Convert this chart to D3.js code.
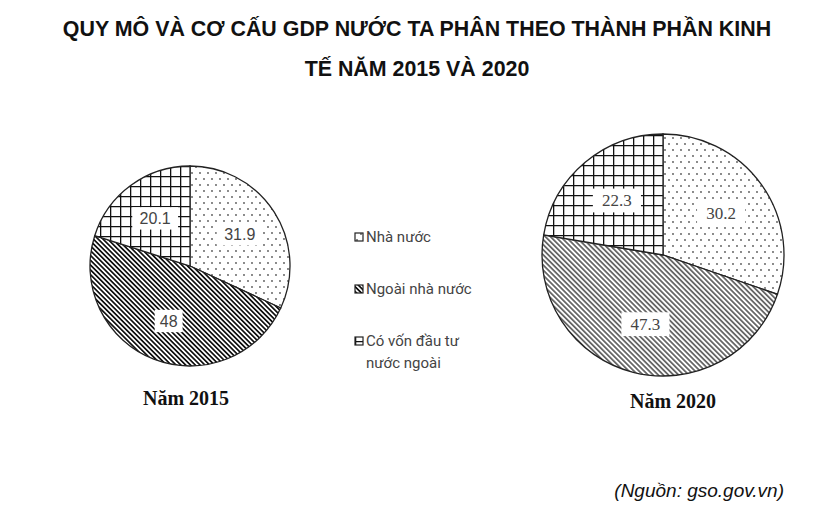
<!DOCTYPE html>
<html>
<head>
<meta charset="utf-8" />
<title>Quy mô và cơ cấu GDP</title>
<script src="https://d3js.org/d3.v7.min.js"></script>
<style>
  body { margin: 0; background: #fff; }
  svg { display: block; }
</style>
</head>
<body>
<div id="chart"></div>
<script>
  // dữ liệu
  const categories = ['Nhà nước', 'Ngoài nhà nước', 'Có vốn đầu tư nước ngoài'];
  const years = ['Năm 2015', 'Năm 2020'];
  const values2015 = [31.9, 48, 20.1];
  const values2020 = [30.2, 47.3, 22.3];
  const titleLines = [
    'QUY MÔ VÀ CƠ CẤU GDP NƯỚC TA PHÂN THEO THÀNH PHẦN KINH',
    'TẾ NĂM 2015 VÀ 2020'
  ];
  const legendLines = [['Nhà nước'], ['Ngoài nhà nước'], ['Có vốn đầu tư', 'nước ngoài']];
  const sourceText = '(Nguồn: gso.gov.vn)';

  const width = 820, height = 510;
  const svg = d3.select('#chart').append('svg')
    .attr('width', width).attr('height', height);

  // mẫu tô
  const defs = svg.append('defs');

  const dots = defs.append('pattern').attr('id', 'dots')
    .attr('patternUnits', 'userSpaceOnUse').attr('width', 8).attr('height', 12);
  dots.append('circle').attr('cx', 2).attr('cy', 3).attr('r', 0.9).attr('fill', '#555');
  dots.append('circle').attr('cx', 6).attr('cy', 9).attr('r', 0.9).attr('fill', '#555');

  function hatch(id, color, size, w) {
    const p = defs.append('pattern').attr('id', id)
      .attr('patternUnits', 'userSpaceOnUse').attr('width', size).attr('height', size)
      .attr('patternTransform', 'rotate(-45)');
    p.append('rect').attr('width', size).attr('height', size).attr('fill', '#fff');
    p.append('line').attr('x1', size / 2).attr('x2', size / 2).attr('y1', 0).attr('y2', size)
      .attr('stroke', color).attr('stroke-width', w);
  }
  hatch('hatchDark', '#111', 3.4, 1.7);
  hatch('hatchGray', '#555', 3.6, 1.6);

  function grid(id, size, w) {
    const p = defs.append('pattern').attr('id', id)
      .attr('patternUnits', 'userSpaceOnUse').attr('width', size).attr('height', size);
    p.append('rect').attr('width', size).attr('height', size).attr('fill', '#fff');
    p.append('path').attr('d', `M0,0.5H${size}M0.5,0V${size}`)
      .attr('stroke', '#111').attr('stroke-width', w).attr('fill', 'none');
  }
  grid('grid', 10, 1.6);

  // tiêu đề
  svg.append('g').selectAll('text').data(titleLines).join('text')
    .attr('x', 417).attr('y', (d, i) => 36 + i * 40)
    .attr('text-anchor', 'middle')
    .style('font-family', '"Liberation Sans", Arial, sans-serif')
    .style('font-weight', 'bold').style('font-size', '21.4px')
    .attr('fill', '#111')
    .text(d => d);

  const pie = d3.pie().sort(null).value(d => d);

  const charts = [
    { values: values2015, cx: 190, cy: 266, r: 100, fills: ['url(#dots)', 'url(#hatchDark)', 'url(#grid)'],
      labelFont: '"Liberation Sans", Arial, sans-serif', labelSize: 16, captionY: 405, captionX: 186 },
    { values: values2020, cx: 663, cy: 255, r: 121, fills: ['url(#dots)', 'url(#hatchGray)', 'url(#grid)'],
      labelFont: '"Liberation Serif", "Times New Roman", serif', labelSize: 17, captionY: 408, captionX: 673 }
  ];

  charts.forEach((c, ci) => {
    const g = svg.append('g').attr('transform', `translate(${c.cx},${c.cy})`);
    const arc = d3.arc().innerRadius(0).outerRadius(c.r);
    const labelArc = d3.arc().innerRadius(c.r * 0.59).outerRadius(c.r * 0.59);
    const arcs = pie(c.values);

    g.selectAll('path').data(arcs).join('path')
      .attr('d', arc)
      .attr('fill', (d, i) => c.fills[i])
      .attr('stroke', '#222').attr('stroke-width', 1.3);

    const lab = g.selectAll('g.lab').data(arcs).join('g').attr('class', 'lab')
      .attr('transform', d => `translate(${labelArc.centroid(d)})`);
    lab.append('rect')
      .attr('x', d => -(String(d.data).length * c.labelSize * 0.28 + 5))
      .attr('y', -c.labelSize * 0.7)
      .attr('width', d => String(d.data).length * c.labelSize * 0.56 + 10)
      .attr('height', c.labelSize * 1.4)
      .attr('fill', '#fff');
    lab.append('text')
      .attr('text-anchor', 'middle').attr('dy', '0.35em')
      .style('font-family', c.labelFont).style('font-size', c.labelSize + 'px')
      .attr('fill', '#444')
      .text(d => d.data);

    svg.append('text')
      .attr('x', c.captionX).attr('y', c.captionY)
      .attr('text-anchor', 'middle')
      .style('font-family', '"Liberation Serif", "Times New Roman", serif')
      .style('font-weight', 'bold').style('font-size', '20px')
      .attr('fill', '#111')
      .text(years[ci]);
  });

  // chú giải
  const legendFills = ['url(#dots)', 'url(#hatchDark)', 'url(#grid)'];
  const legendY = d3.scalePoint().domain(categories).range([237, 341]);
  const lg = svg.append('g').selectAll('g').data(categories).join('g')
    .attr('transform', d => `translate(355,${legendY(d)})`);
  lg.append('rect')
    .attr('x', 0).attr('y', -4).attr('width', 8).attr('height', 8)
    .attr('fill', (d, i) => legendFills[i])
    .attr('stroke', '#222').attr('stroke-width', 1.2);
  lg.append('text')
    .style('font-family', 'Roboto, Arial, sans-serif').style('font-size', '15px')
    .attr('fill', '#444')
    .selectAll('tspan').data((d, i) => legendLines[i]).join('tspan')
    .attr('x', 11).attr('dy', (d, j) => j === 0 ? '0.35em' : '1.45em')
    .text(d => d);

  // nguồn
  svg.append('text')
    .attr('x', 784).attr('y', 497).attr('text-anchor', 'end')
    .style('font-family', '"Liberation Sans", Arial, sans-serif')
    .style('font-style', 'italic').style('font-size', '19px')
    .attr('fill', '#111')
    .text(sourceText);
</script>
</body>
</html>
